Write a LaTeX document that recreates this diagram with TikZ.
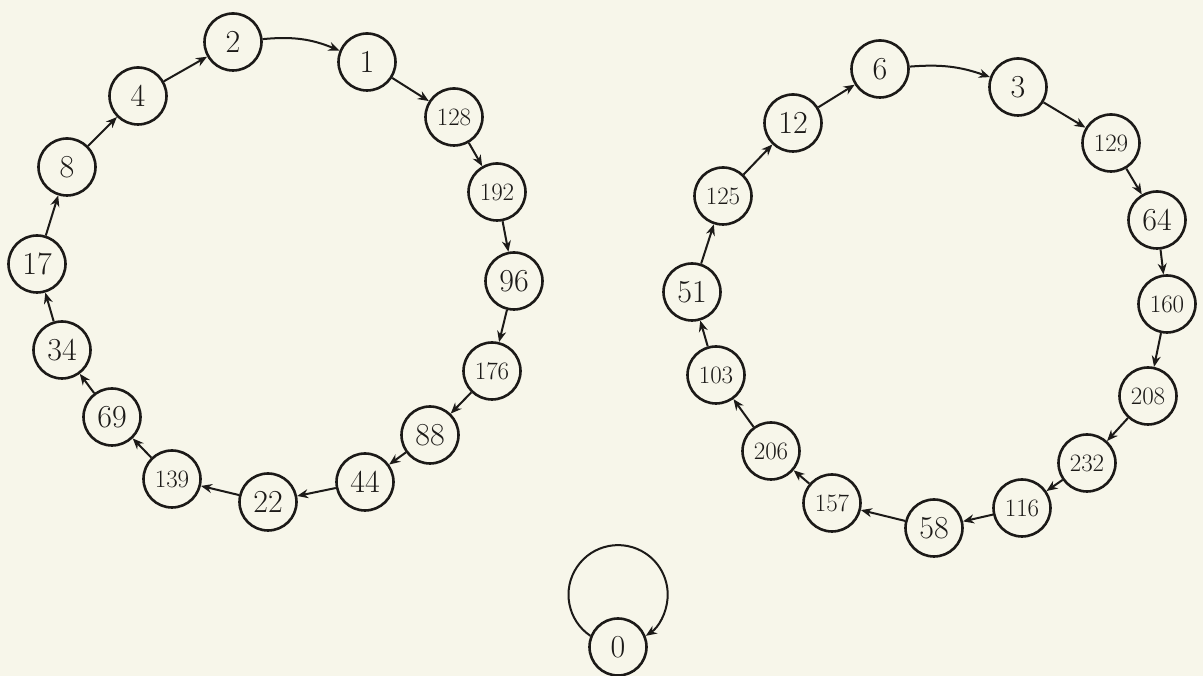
\documentclass[tikz,border=0pt]{standalone}
\usetikzlibrary{arrows.meta}
\definecolor{paper}{RGB}{247,246,234}
\definecolor{ink}{RGB}{28,26,24}
\begin{document}
\begin{tikzpicture}[x=1pt,y=1pt,
  state/.style={circle,draw=ink,line width=2.6pt,minimum size=57pt,inner sep=0pt,text=ink,font=\fontsize{32}{34}\selectfont},
  smallstate/.style={state,font=\fontsize{25}{27}\selectfont},
  edge/.style={draw=ink,line width=2pt,-{Stealth[length=11pt,width=9pt]}}]
\useasboundingbox (0,0) rectangle (1203,676);
\fill[paper] (0,0) rectangle (1203,676);
% left cycle
\node[state] (n2) at (233,634) {2};
\node[state] (n1) at (367,614) {1};
\node[smallstate] (n128) at (454,559) {128};
\node[smallstate] (n192) at (497,484) {192};
\node[state] (n96) at (514,395) {96};
\node[smallstate] (n176) at (492,305) {176};
\node[state] (n88) at (430,241) {88};
\node[state] (n44) at (365,194) {44};
\node[state] (n22) at (268,174) {22};
\node[smallstate] (n139) at (172,197) {139};
\node[state] (n69) at (112,259) {69};
\node[state] (n34) at (62,326) {34};
\node[state] (n17) at (37,412) {17};
\node[state] (n8) at (67,509) {8};
\node[state] (n4) at (138,580) {4};
% right cycle
\node[state] (n6) at (880,607) {6};
\node[state] (n3) at (1018,589) {3};
\node[smallstate] (n129) at (1111,533) {129};
\node[state] (n64) at (1157,456) {64};
\node[smallstate] (n160) at (1167,372) {160};
\node[smallstate] (n208) at (1148,280) {208};
\node[smallstate] (n232) at (1087,213) {232};
\node[smallstate] (n116) at (1022,168) {116};
\node[state] (n58) at (934,148) {58};
\node[smallstate] (n157) at (832,173) {157};
\node[smallstate] (n206) at (771,225) {206};
\node[smallstate] (n103) at (716,301) {103};
\node[state] (n51) at (692,384) {51};
\node[smallstate] (n125) at (723,480) {125};
\node[state] (n12) at (793,553) {12};
% zero
\node[state] (z) at (618,29) {0};
% left edges
\draw[edge] (n2) to[bend left=14] (n1);
\draw[edge] (n1) -- (n128);
\draw[edge] (n128) -- (n192);
\draw[edge] (n192) -- (n96);
\draw[edge] (n96) -- (n176);
\draw[edge] (n176) -- (n88);
\draw[edge] (n88) -- (n44);
\draw[edge] (n44) -- (n22);
\draw[edge] (n22) -- (n139);
\draw[edge] (n139) -- (n69);
\draw[edge] (n69) -- (n34);
\draw[edge] (n34) -- (n17);
\draw[edge] (n17) -- (n8);
\draw[edge] (n8) -- (n4);
\draw[edge] (n4) -- (n2);
% right edges
\draw[edge] (n6) to[bend left=12] (n3);
\draw[edge] (n3) -- (n129);
\draw[edge] (n129) -- (n64);
\draw[edge] (n64) -- (n160);
\draw[edge] (n160) -- (n208);
\draw[edge] (n208) -- (n232);
\draw[edge] (n232) -- (n116);
\draw[edge] (n116) -- (n58);
\draw[edge] (n58) -- (n157);
\draw[edge] (n157) -- (n206);
\draw[edge] (n206) -- (n103);
\draw[edge] (n103) -- (n51);
\draw[edge] (n51) -- (n125);
\draw[edge] (n125) -- (n12);
\draw[edge] (n12) -- (n6);
% self loop
\draw[edge] (z.158) arc[start angle=236,end angle=-56,radius=49.6];
\end{tikzpicture}
\end{document}
